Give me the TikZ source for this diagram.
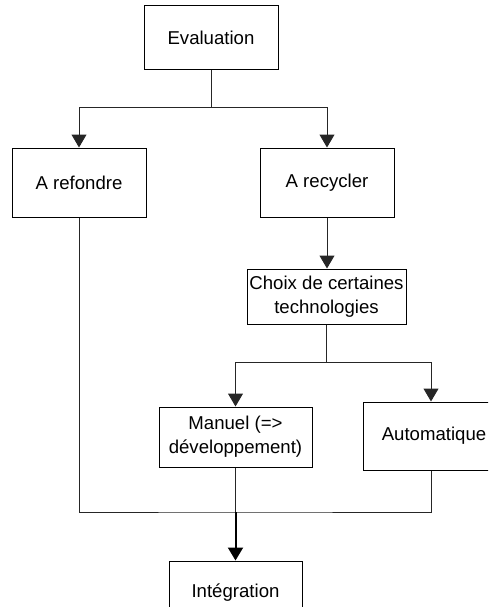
\documentclass[tikz,border=0pt]{standalone}
\usepackage{fontspec}
\setmainfont{Liberation Sans}
\usetikzlibrary{arrows.meta}
\begin{document}
\begin{tikzpicture}[x=1pt,y=-1pt,
  box/.style={draw=black,line width=1pt,inner sep=0pt,align=center,
    font=\fontsize{18.6}{24}\selectfont},
  link/.style={draw=black!85,line width=1pt},
  arr/.style={link,-{Triangle[width=15pt,length=13pt]}},
  thickarr/.style={draw=black,line width=2pt,-{Triangle[width=15pt,length=13pt]}}]
\useasboundingbox (0,0) rectangle (488,607);
\clip (0,0) rectangle (488,607);
% boxes
\node[box,minimum width=134pt,minimum height=64pt] (eval) at (211,38) {Evaluation};
\node[box,minimum width=134pt,minimum height=69pt] (refondre) at (79,182.5) {A refondre};
\node[box,minimum width=134pt,minimum height=69pt] (recycler) at (327,182.5) {A recycler};
\node[box,minimum width=159pt,minimum height=55pt] (choix) at (326.5,296.5) {Choix de certaines\\technologies};
\node[box,minimum width=153pt,minimum height=60pt] (manuel) at (235.5,437) {Manuel (=>\\d\'eveloppement)};
\node[box,minimum width=136pt,minimum height=68pt] (auto) at (431,436) {\hspace*{6pt}Automatique};
\node[box,minimum width=133pt,minimum height=64pt] (integ) at (235.5,593) {Int\'egration};
% junction points
\coordinate (j1) at (211,108);
\coordinate (j2) at (326.5,362);
\coordinate (j3) at (235.5,512);
% connectors
\draw[link] (eval.south) -- (j1);
\draw[arr] (j1) -| (refondre.north);
\draw[arr] (j1) -| (recycler.north);
\draw[arr] (recycler.south) -- (recycler.south |- choix.north);
\draw[link] (choix.south) -- (j2);
\draw[arr] (j2) -| (manuel.north);
\draw[arr] (j2) -| (auto.north);
\draw[link] (refondre.south) |- (j3) -| (auto.south);
\draw[link] (manuel.south) -- (j3);
\draw[thickarr] (j3) -- (integ.north);
\end{tikzpicture}
\end{document}
